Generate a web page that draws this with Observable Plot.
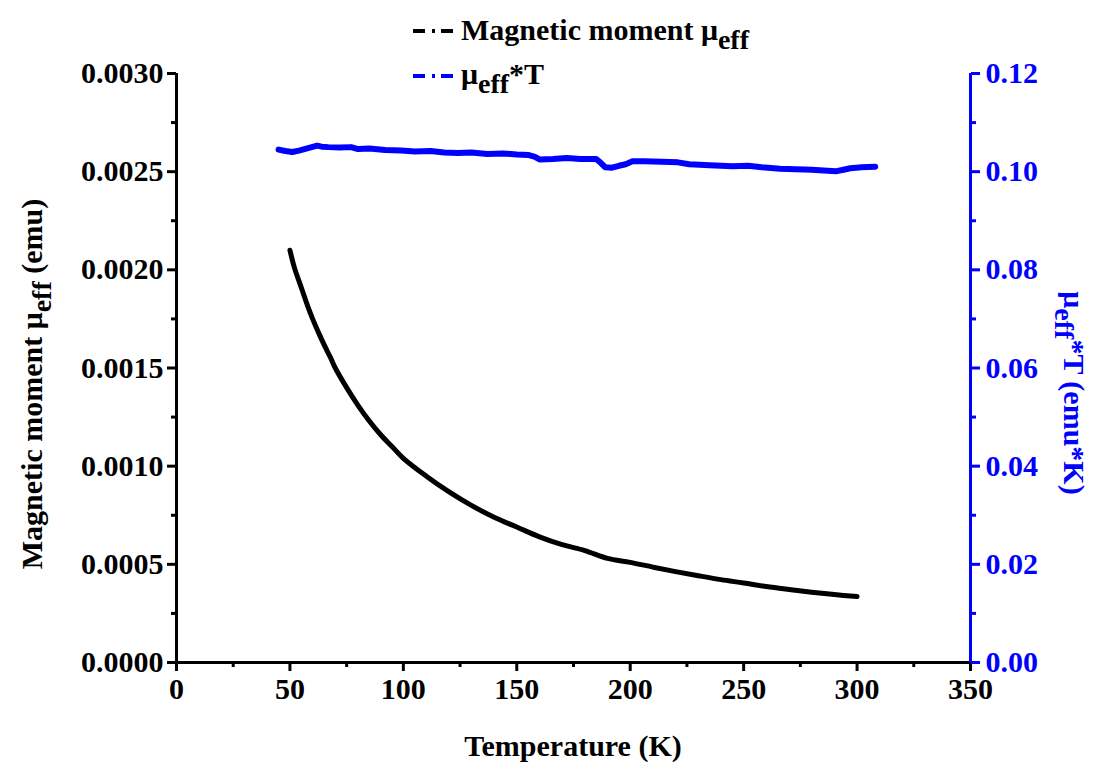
<!DOCTYPE html>
<html><head><meta charset="utf-8">
<script src="https://cdn.jsdelivr.net/npm/d3@7"></script>
<script src="https://cdn.jsdelivr.net/npm/@observablehq/plot@0.6"></script>
<style>
body{margin:0;background:#fff;}
#wrap{position:relative;width:1096px;height:767px;font-family:"Liberation Serif","Times New Roman",serif;font-weight:bold;color:#000;}
#wrap svg{position:absolute;left:0;top:0;}
.lbl{position:absolute;white-space:nowrap;font-size:30px;line-height:1;}
.lbl sub{font-size:28px;vertical-align:-9px;line-height:0;}
.rot{transform:translate(-50%,-50%) rotate(-90deg);}
.rotr{transform:translate(-50%,-50%) rotate(90deg);}
.sample{position:absolute;}
</style></head><body><div id="wrap"></div>
<script>
// Magnetic moment (emu) vs temperature (K)
const tempsMu = [50,52,55,58,60,63,65,68,70,75,80,85,90,95,100,110,120,130,140,150,160,170,180,190,200,210,220,230,240,250,260,270,280,290,300];
const muValues = [0.00210,0.00201,0.00191,0.00181,0.00175,0.00167,0.00162,0.00155,0.00150,0.00140,0.00131,0.00123,0.00116,0.00110,0.00104,0.00095,0.00087,0.00080,0.00074,0.00069,0.00064,0.00060,0.00057,0.00053,0.00051,0.000486,0.000463,0.000442,0.000422,0.000405,0.000387,0.000372,0.000358,0.000346,0.000336];
// mu_eff*T (emu*K) vs temperature (K)
const tempsMuT = [45,48,51,54,58,62,64,67,72,77,80,85,92,99,105,112,118,124,130,137,144,150,155,158,160,166,172,178,185,187,189,192,195,198,201,206,214,221,226,235,245,252,258,266,273,280,287,291,294,297,302,308];
const muTValues = [0.1045,0.1042,0.1040,0.1043,0.1048,0.1053,0.1051,0.1050,0.1049,0.1050,0.1046,0.1047,0.1044,0.1043,0.1041,0.1042,0.1039,0.1038,0.1039,0.1036,0.1037,0.1035,0.1034,0.1030,0.1025,0.1026,0.1028,0.1026,0.1026,0.1018,0.1009,0.1008,0.1012,0.1015,0.1021,0.1021,0.1020,0.1019,0.1015,0.1013,0.1011,0.1012,0.1009,0.1006,0.1005,0.1004,0.1002,0.1001,0.1004,0.1007,0.1009,0.1010];
const xTicks = [0,50,100,150,200,250,300,350];
const xMinor = [25,75,125,175,225,275,325];
const leftTicks = [0,0.0005,0.0010,0.0015,0.0020,0.0025,0.0030];
const leftMinor = [0.00025,0.00075,0.00125,0.00175,0.00225,0.00275];
const rightTicks = [0,0.02,0.04,0.06,0.08,0.10,0.12];
const rightMinor = [0.01,0.03,0.05,0.07,0.09,0.11];
const leftMax = 0.003, rightMax = 0.12;
const ratio = rightMax / leftMax;
const blue = "#0000ff";

const muData = tempsMu.map((t,i)=>({T:t, v:muValues[i]}));
const muTData = tempsMuT.map((t,i)=>({T:t, v:muTValues[i]}));

const chart = Plot.plot({
  width:1096, height:767,
  marginLeft:176, marginRight:126, marginTop:73, marginBottom:105,
  style:{fontFamily:'"Liberation Serif","Times New Roman",serif', fontWeight:"bold", fontSize:"30px", background:"transparent", overflow:"visible"},
  x:{domain:[0,350]},
  y:{domain:[0,leftMax]},
  marks:[
    Plot.line(muTData, {x:"T", y:d=>d.v/ratio, stroke:blue, strokeWidth:6, curve:"linear"}),
    Plot.line(muData, {x:"T", y:"v", stroke:"#000", strokeWidth:5, curve:"catmull-rom"}),
    Plot.axisX({ticks:xTicks, tickSize:9, tickPadding:6, strokeWidth:3, label:null, tickFormat:d=>String(d), color:"#000"}),
    Plot.axisX({ticks:xMinor, tickSize:5, strokeWidth:3, text:null, label:null, color:"#000"}),
    Plot.axisY({ticks:leftTicks, tickSize:9, tickPadding:4, strokeWidth:3, label:null, tickFormat:d=>d.toFixed(4), color:"#000"}),
    Plot.axisY({ticks:leftMinor, tickSize:5, strokeWidth:3, text:null, label:null, color:"#000"}),
    Plot.axisY({anchor:"right", ticks:rightTicks.map(v=>v/ratio), tickSize:9, tickPadding:6, strokeWidth:3, label:null, tickFormat:d=>(d*ratio).toFixed(2), color:blue}),
    Plot.axisY({anchor:"right", ticks:rightMinor.map(v=>v/ratio), tickSize:5, strokeWidth:3, text:null, label:null, color:blue}),
    Plot.ruleX([0], {stroke:"#000", strokeWidth:3}),
    Plot.ruleY([0], {stroke:"#000", strokeWidth:3}),
    Plot.ruleX([350], {stroke:blue, strokeWidth:3})
  ]
});
const wrap = document.getElementById("wrap");
wrap.appendChild(chart);

function addLabel(html, left, top, cls, color){
  const d = document.createElement("div");
  d.className = "lbl " + (cls||"");
  d.innerHTML = html;
  d.style.left = left + "px";
  d.style.top = top + "px";
  if (color) d.style.color = color;
  wrap.appendChild(d);
  return d;
}
addLabel("Temperature (K)", 573, 746, "rot0").style.transform = "translate(-50%,-50%)";
addLabel("Magnetic moment &mu;<sub>eff</sub> (emu)", 32, 384, "rot");
addLabel("&mu;<sub>eff</sub>*T (emu*K)", 1074, 393, "rotr", blue);
// legend
function sample(top, color){
  const ns = "http://www.w3.org/2000/svg";
  const s = document.createElementNS(ns, "svg");
  s.setAttribute("width", 44); s.setAttribute("height", 8);
  s.setAttribute("class","sample");
  s.style.left = "411px"; s.style.top = (top-4) + "px";
  const l = document.createElementNS(ns, "line");
  l.setAttribute("x1",2); l.setAttribute("x2",42); l.setAttribute("y1",4); l.setAttribute("y2",4);
  l.setAttribute("stroke", color); l.setAttribute("stroke-width", 4);
  l.setAttribute("stroke-dasharray","12 7 3 6 13");
  s.appendChild(l);
  wrap.appendChild(s);
}
sample(31, "#000");
sample(76, blue);
addLabel("Magnetic moment &mu;<sub>eff</sub>", 461, 15);
addLabel("&mu;<sub>eff</sub>*T", 461, 59);
</script>
</body></html>
